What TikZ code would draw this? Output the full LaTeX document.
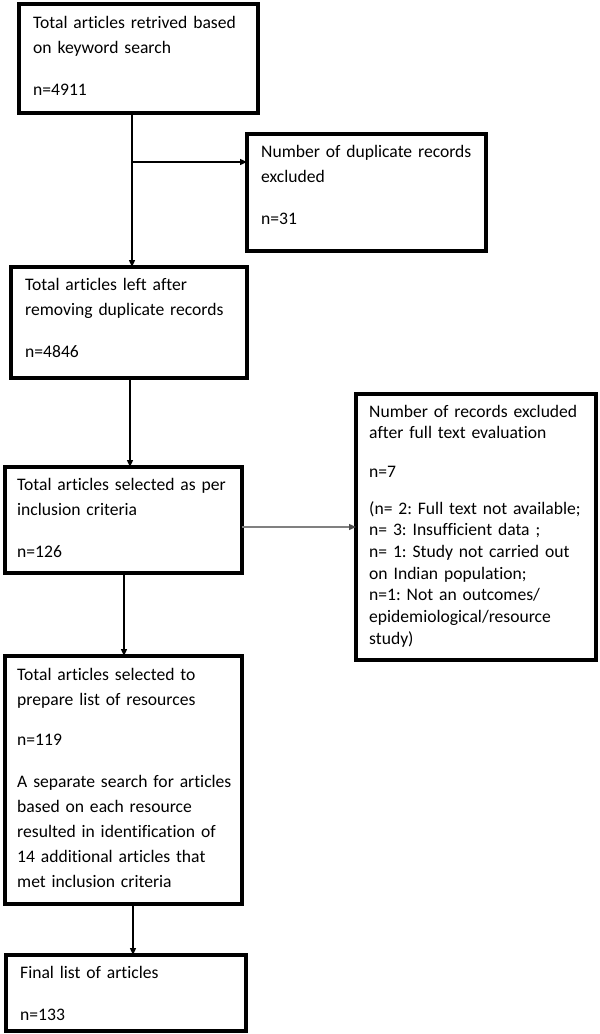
\documentclass[tikz,border=0pt]{standalone}
\usepackage{fontspec}
\setmainfont[Ligatures={NoCommon}]{Carlito}
\frenchspacing
\usetikzlibrary{arrows.meta}
\begin{document}
\begin{tikzpicture}[x=1pt,y=-1pt,
  box/.style={draw=black, line width=4.5pt, fill=white, rectangle, inner sep=0pt, outer sep=0pt, anchor=north west},
  txt/.style={anchor=base west, inner sep=0pt, text width=235pt, align=left, font=\fontsize{17.6}{25}\selectfont\frenchspacing},
  txtb/.style={txt, font=\fontsize{17.6}{21.7}\selectfont\frenchspacing},
  arr/.style={line width=1.3pt, -{Triangle[length=7pt,width=6pt]}},
  garr/.style={line width=1.3pt, draw=black!50, -{Triangle[length=7pt,width=6pt,color=black!70]}}]
\useasboundingbox (0,0) rectangle (600,1034);
% boxes
\node[box, minimum width=239pt, minimum height=109pt] (b1) at (19,4) {};
\node[box, minimum width=239pt, minimum height=117pt] (dup) at (247,134) {};
\node[box, minimum width=236pt, minimum height=111pt] (b2) at (11,267) {};
\node[box, minimum width=237pt, minimum height=106pt] (b3) at (5,467) {};
\node[box, minimum width=240pt, minimum height=266pt] (excl) at (356,394) {};
\node[box, minimum width=237pt, minimum height=248pt] (b4) at (5,656) {};
\node[box, minimum width=240pt, minimum height=76pt] (b5) at (6,955) {};
% texts
\node[txt] (t1) at (33,28) {Total articles retrived based\\ on keyword search\\[17pt] n=4911};
\node[txt] (td) at (261,157) {Number of duplicate records\\ excluded\\[17pt] n=31};
\node[txt] (t2) at (25,290) {Total articles left after\\ removing duplicate records\\[17pt] n=4846};
\node[txt] (t3) at (17,490) {Total articles selected as per\\ inclusion criteria\\[17pt] n=126};
\node[txtb] (te) at (369,417) {Number of records excluded\\ after full text evaluation\\[17pt] n=7\\[15pt] (n= 2: Full text not available;\\ n= 3: Insufficient data ;\\ n= 1: Study not carried out\\ on Indian population;\\ n=1: Not an outcomes/\\ epidemiological/resource\\ study)};
\node[txt] (t4) at (17,680) {Total articles selected to\\ prepare list of resources\\[15pt] n=119\\[17pt] A separate search for articles\\ based on each resource\\ resulted in identification of\\ 14 additional articles that\\ met inclusion criteria};
\node[txt] (t5) at (20,978) {Final list of articles\\[17pt] n=133};
% connectors
\coordinate (x1) at (132,0);
\coordinate (j1) at (132,162);
\coordinate (x2) at (130,0);
\coordinate (y3) at (0,527);
\coordinate (x4) at (124,0);
\coordinate (x5) at (133,0);
\draw[arr] (b1.south -| x1) -- (b2.north -| x1);
\draw[arr] (j1) -- (j1 -| dup.west);
\draw[arr] (b2.south -| x2) -- (b3.north -| x2);
\draw[garr] (b3.east |- y3) -- (excl.west |- y3);
\draw[arr] (b3.south -| x4) -- (b4.north -| x4);
\draw[arr] (b4.south -| x5) -- (b5.north -| x5);
\end{tikzpicture}
\end{document}
